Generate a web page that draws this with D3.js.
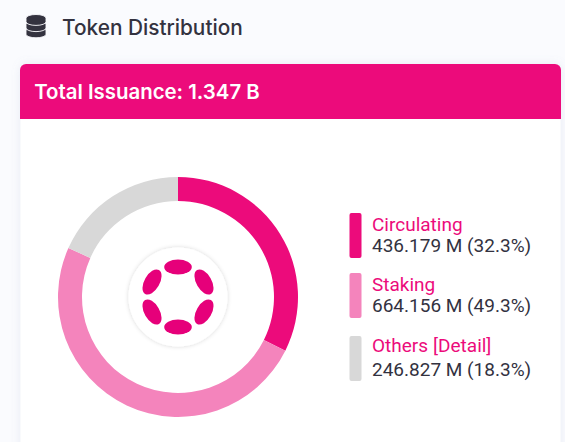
<!DOCTYPE html>
<html><head><meta charset="utf-8">
<script src="https://cdn.jsdelivr.net/npm/d3@7"></script>
<style>html,body{margin:0;padding:0;background:#fafbfe;overflow:hidden}svg{display:block}</style>
</head><body><svg id="c" width="565" height="442"></svg>
<script>
const titleText = "Token Distribution";
const totalText = "Total Issuance: 1.347 B";
const categories = ["Circulating", "Staking", "Others"];
const values = [436.179, 664.156, 246.827];
const valueLabels = ["436.179 M (32.3%)", "664.156 M (49.3%)", "246.827 M (18.3%)"];
const colors = ["#ec0b7b", "#f484bc", "#d8d8d8"];
const detailText = "[Detail]";

const svg = d3.select("#c");
const defs = svg.append("defs");
const f1 = defs.append("filter").attr("id","cardShadow").attr("x","-10%").attr("y","-10%").attr("width","120%").attr("height","120%");
f1.append("feDropShadow").attr("dx",0).attr("dy",0).attr("stdDeviation",5).attr("flood-color","#8890c0").attr("flood-opacity",0.16);
const f2 = defs.append("filter").attr("id","logoShadow").attr("x","-20%").attr("y","-20%").attr("width","140%").attr("height","140%");
f2.append("feDropShadow").attr("dx",0).attr("dy",0).attr("stdDeviation",2).attr("flood-color","#000").attr("flood-opacity",0.16);

// database icon
const ic = svg.append("g").attr("transform","translate(36,26.5)").attr("fill","#33323f");
[6.2,0,-6.2].forEach(dy=>{
  ic.append("path").attr("d",`M-10,${dy-2.2} A10,3.6 0 0 1 10,${dy-2.2} L10,${dy+1.5} A10,3.6 0 0 1 -10,${dy+1.5} Z`)
    .attr("stroke","#fafbfe").attr("stroke-width",0.9);
});
svg.append("text").attr("x",62).attr("y",35).attr("font-family","Inter").attr("font-weight",500)
  .attr("font-size",20.8).attr("fill","#33323f").text(titleText);

// card
svg.append("rect").attr("x",20.5).attr("y",64).attr("width",540).attr("height",420).attr("rx",6)
  .attr("fill","#fff").attr("filter","url(#cardShadow)");
svg.append("path").attr("d","M20,119 V70 A6,6 0 0 1 26,64 H555 A6,6 0 0 1 561,70 V119 Z").attr("fill","#ec0b7b");
svg.append("text").attr("x",34.2).attr("y",99.3).attr("font-family","Inter").attr("font-weight",600)
  .attr("font-size",20.4).attr("fill","#fff").text(totalText);

// donut
const cx = 178, cy = 297;
const pie = d3.pie().sort(null).value(d=>d);
const arc = d3.arc().innerRadius(96).outerRadius(120);
const g = svg.append("g").attr("transform",`translate(${cx},${cy})`);
g.selectAll("path").data(pie(values)).join("path").attr("d",arc).attr("fill",(d,i)=>colors[i]);

// logo
g.append("circle").attr("r",49.5).attr("fill","#fff").attr("filter","url(#logoShadow)");
[0,60,120,180,240,300].forEach(a=>{
  g.append("ellipse").attr("cx",0).attr("cy",-30).attr("rx",13.8).attr("ry",7.6)
   .attr("fill","#e6007a").attr("transform",`rotate(${a})`);
});

// legend
const lg = svg.append("g");
const rows = [213,273,336];
const nameDy = [18,18,16];
const valDy = [39,39,40];
categories.forEach((c,i)=>{
  lg.append("rect").attr("x",349.5).attr("y",rows[i]).attr("width",12).attr("height",45).attr("rx",2).attr("fill",colors[i]);
  const t = lg.append("text").attr("font-family","Roboto").attr("font-size",19);
  t.append("tspan").attr("x",372).attr("y",rows[i]+nameDy[i]).attr("fill","#ec0b7b").text(c);
  if(i===2) t.append("tspan").attr("x",433).attr("y",rows[i]+nameDy[i]).attr("fill","#ec0b7b").attr("font-size",19).text(detailText);
  t.append("tspan").attr("x",372).attr("y",rows[i]+valDy[i]).attr("fill","#33323f").text(valueLabels[i]);
});
</script></body></html>
